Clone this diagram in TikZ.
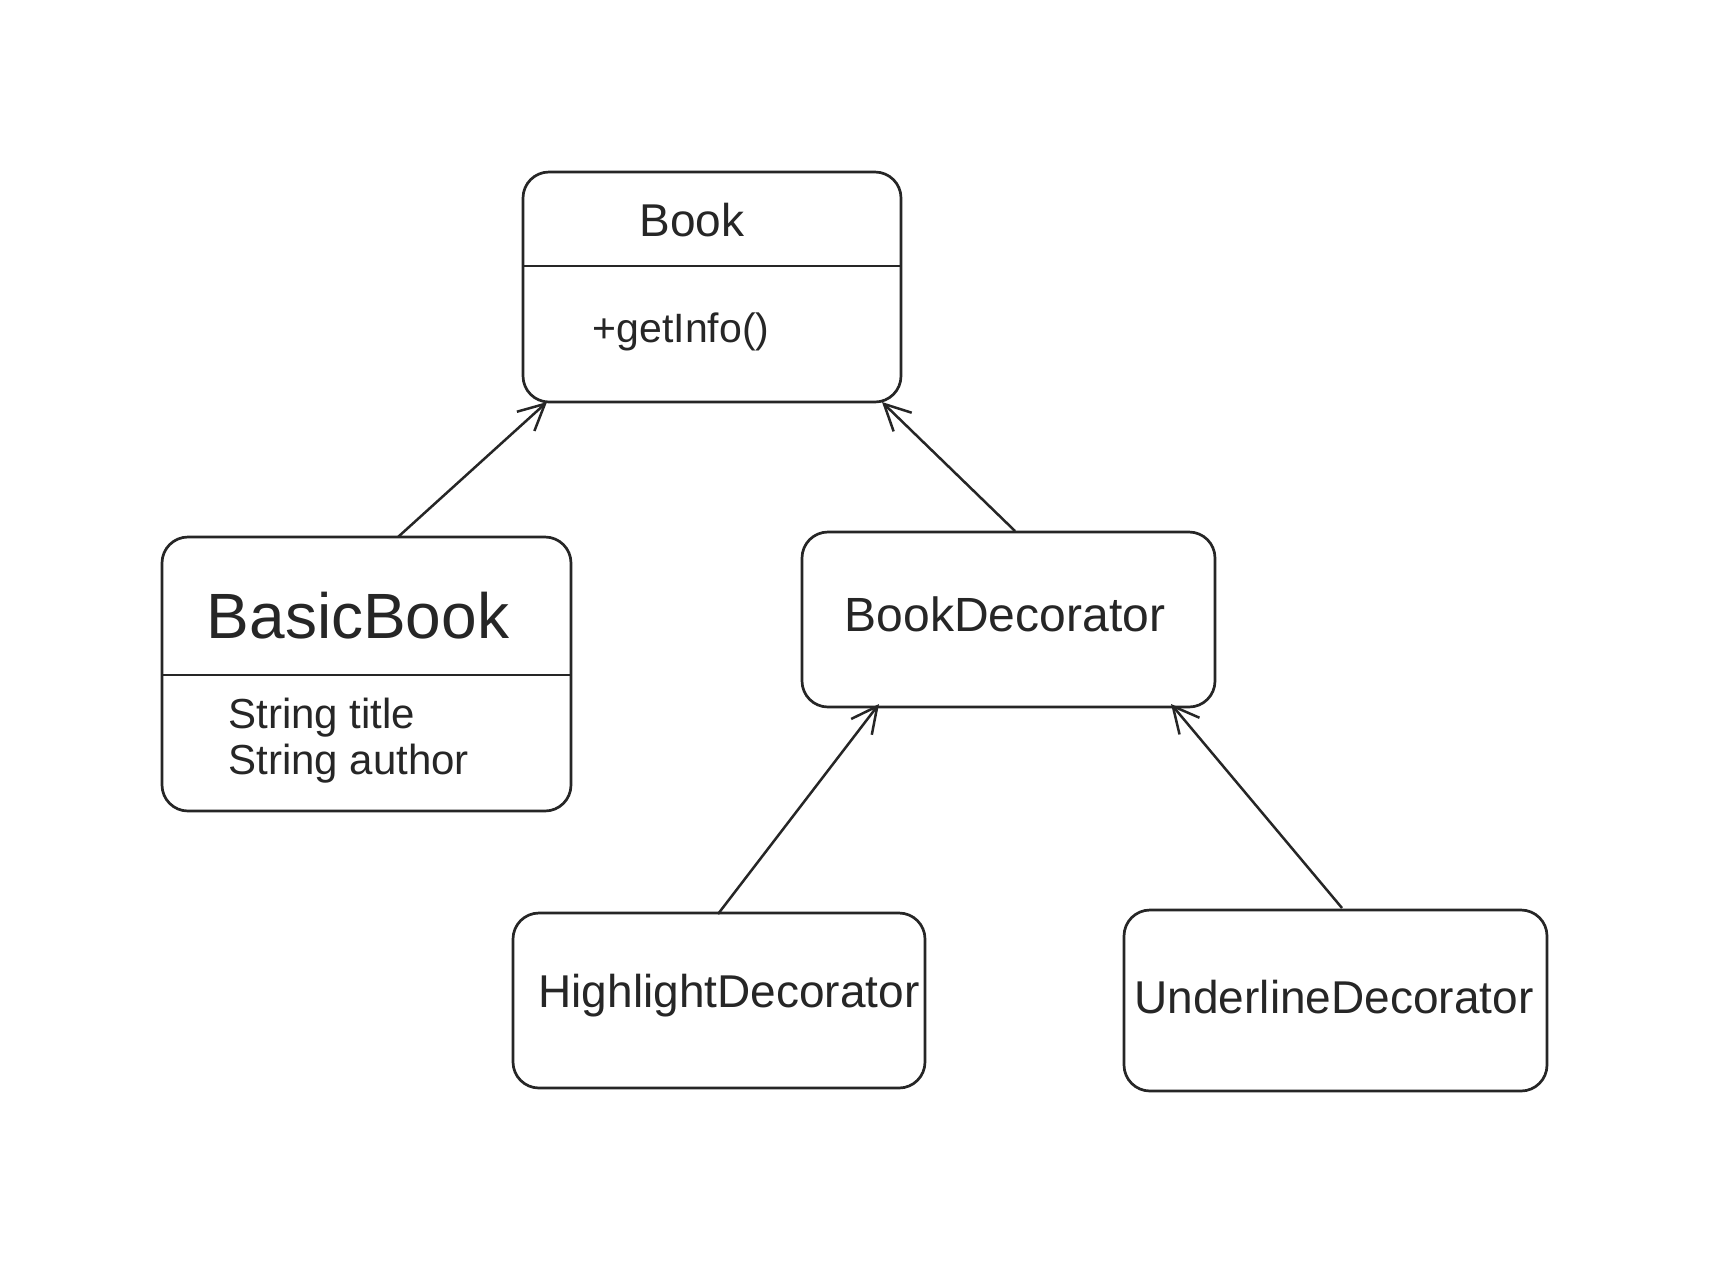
\documentclass[tikz,border=0pt]{standalone}
\usepackage{fontspec}
\setmainfont{Liberation Sans}
\usetikzlibrary{arrows.meta}
\begin{document}
\begin{tikzpicture}[x=0.5pt,y=-0.5pt,
  box/.style={draw=black!85,line width=1.35pt,rounded corners=13pt},
  divider/.style={draw=black!85,line width=1.35pt},
  conn/.style={draw=black!85,line width=1.25pt,-{Straight Barb[length=13pt,width=13pt,line width=1.25pt]}},
  lbl/.style={text=black!85,inner sep=0pt}]
\useasboundingbox[fill=white] (0,0) rectangle (1723,1265);
% Book
\path[box] (523,172) rectangle (901,402);
\coordinate (bookL) at (523,266);
\coordinate (bookR) at (901,266);
\draw[divider] (bookL) -- (bookR);
\node[lbl,font=\fontsize{23}{27}\selectfont] (book) at (692,220) {Book};
\node[lbl,font=\fontsize{20.5}{24}\selectfont] (getinfo) at (681,332) {+getInfo()};
\coordinate (bookBL) at (547,402);
\coordinate (bookBR) at (882,402);
% BasicBook
\path[box] (162,537) rectangle (571,811);
\coordinate (bbL) at (162,675);
\coordinate (bbR) at (571,675);
\draw[divider] (bbL) -- (bbR);
\node[lbl,font=\fontsize{32}{38}\selectfont] (basic) at (358,616) {BasicBook};
\node[lbl,font=\fontsize{21}{25}\selectfont,anchor=west] (title) at (228,718) {String title};
\node[lbl,font=\fontsize{21}{25}\selectfont,anchor=west] (author) at (228,764) {String author};
\coordinate (bbT) at (398,537);
% BookDecorator
\path[box] (802,532) rectangle (1215,707);
\node[lbl,font=\fontsize{24}{28}\selectfont] (bdec) at (1005,614) {BookDecorator};
\coordinate (bdT) at (1015,531);
\coordinate (bdBL) at (879,704);
\coordinate (bdBR) at (1171,704);
% HighlightDecorator
\path[box] (513,913) rectangle (925,1088);
\node[lbl,font=\fontsize{23}{27}\selectfont] (hdec) at (729,996) {HighlightDecorator};
\coordinate (hdT) at (718,914);
% UnderlineDecorator
\path[box] (1124,910) rectangle (1547,1091);
\node[lbl,font=\fontsize{23}{27}\selectfont] (udec) at (1334,997) {UnderlineDecorator};
\coordinate (udT) at (1342,908);
% connectors
\draw[conn] (bbT) -- (bookBL);
\draw[conn] (bdT) -- (bookBR);
\draw[conn] (hdT) -- (bdBL);
\draw[conn] (udT) -- (bdBR);
\end{tikzpicture}
\end{document}
